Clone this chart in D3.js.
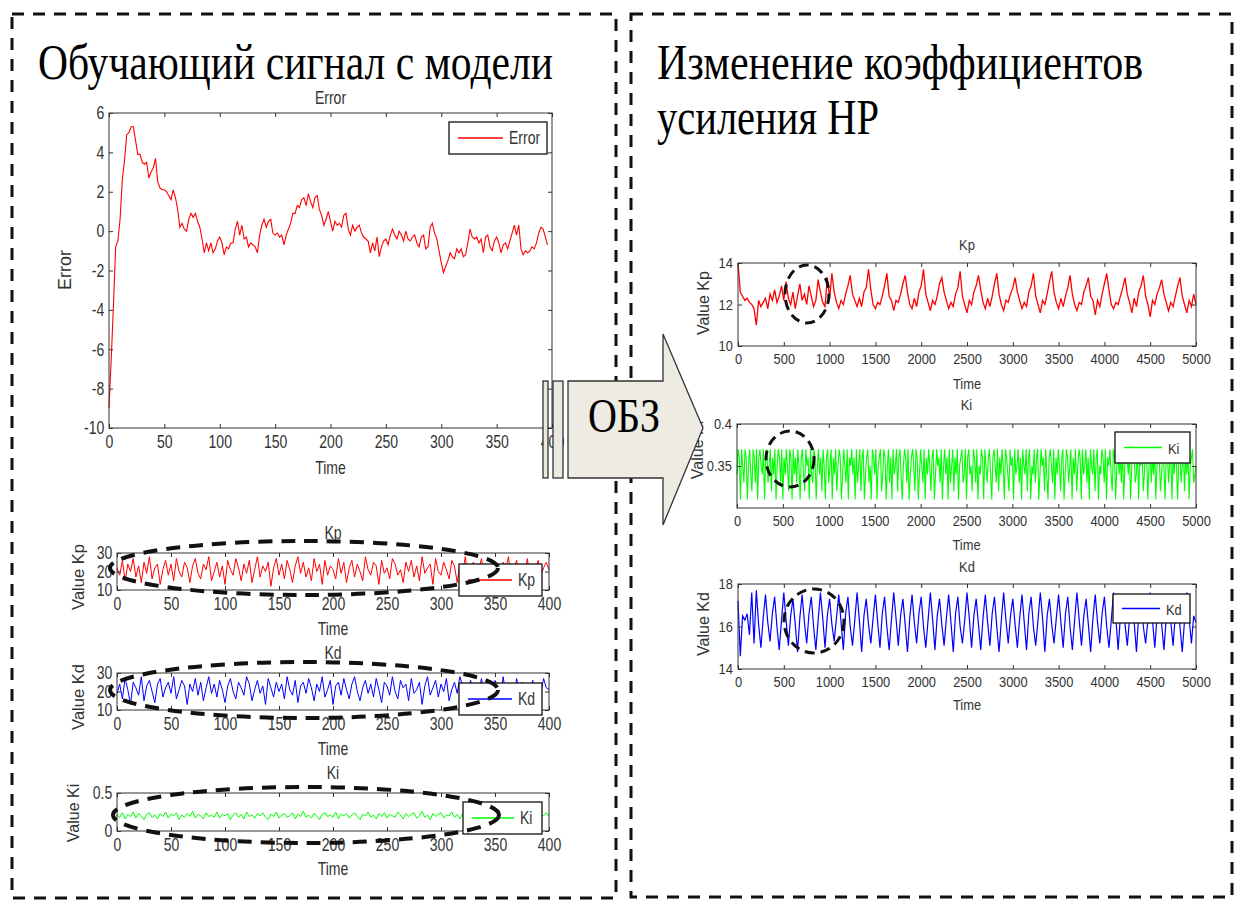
<!DOCTYPE html>
<html>
<head>
<meta charset="utf-8">
<script src="https://cdn.jsdelivr.net/npm/d3@7"></script>
<style>
  body { margin: 0; background: #fff; }
  text { fill: #333; }
</style>
</head>
<body>
<div id="chart"></div>
<script>
// ---- data ----
// error signal, one value every 2 time units (0..396)
const errorValues = [
  -9.0,-6.5,-3.8,-0.8,-0.5,0.6,2.6,3.6,4.9,5.0,5.3,5.3,4.6,3.9,3.9,3.5,3.4,3.5,2.7,3.0,
  3.2,3.7,2.5,2.2,2.1,2.1,2.0,1.8,1.6,2.1,1.7,1.1,0.2,0.4,0.1,0.0,0.6,0.9,0.7,0.9,
  0.5,0.2,-0.4,-1.1,-0.6,-1.0,-0.6,-1.1,-0.9,-0.5,-0.3,-0.6,-1.2,-0.8,-0.9,-0.6,-0.6,0.1,0.5,-0.2,
  0.3,-0.4,-0.3,-0.8,-0.6,-0.7,-0.8,-1.1,-0.2,0.3,0.6,0.2,0.5,0.6,-0.1,-0.2,-0.1,-0.3,-0.2,-0.7,
  -0.2,0.1,0.4,0.9,0.9,1.3,1.2,1.6,1.7,1.3,1.9,1.5,1.2,1.7,1.8,1.1,0.8,0.3,0.6,1.0,
  0.5,0.0,0.5,0.3,0.4,0.2,0.8,0.9,0.1,-0.2,0.3,0.0,0.2,0.3,-0.1,-0.3,-0.4,-0.5,-1.1,-0.6,
  -1.0,-0.3,-1.3,-0.8,-0.5,-0.4,-0.7,-0.2,0.1,-0.2,-0.4,0.0,-0.2,-0.5,0.0,-0.4,-0.5,-0.3,-0.2,-0.6,
  -0.8,-0.3,-0.2,-0.9,-0.8,0.2,0.4,-0.1,-0.4,-1.0,-1.6,-2.1,-1.8,-1.5,-1.1,-1.3,-1.4,-0.9,-1.1,-0.9,
  -1.3,-1.2,-0.6,0.1,-0.3,-0.4,-0.3,-0.6,-0.4,-1.1,-0.3,-0.2,-0.8,-1.0,-0.5,-0.3,-0.6,-1.1,-0.7,-0.6,
  -0.9,-0.5,-0.1,0.3,-0.2,0.3,-0.9,-1.2,-1.0,-1.1,-1.0,-0.8,-0.9,-0.6,-0.1,0.2,0.1,-0.3,-0.7
];

// left small plots, one value every 2.5 time units (0..400)
const kpSmall = [
  22,18,26,15,24,20,27,17,23,14,25,19,28,16,22,24,13,21,26,18,
  24,15,27,20,17,25,22,14,23,27,19,16,24,21,28,15,20,25,17,23,
  13,26,21,18,27,22,15,24,19,26,14,21,28,17,23,20,25,12,22,27,
  18,24,16,26,21,14,23,28,19,25,17,22,15,27,20,24,13,26,18,23,
  21,16,27,19,25,14,22,26,17,24,20,15,28,21,18,25,23,13,26,19,
  22,16,27,24,18,21,14,25,20,26,17,23,15,28,19,22,24,13,27,20,
  18,25,21,16,26,23,14,24,19,28,17,22,25,15,21,27,18,24,13,26,
  20,23,16,25,22,28,14,21,26,17,24,19,27,15,23,20,26,18,22,25,21
];
const kdSmall = [
  19,24,16,27,21,13,25,22,18,28,15,23,26,20,14,24,27,17,22,25,
  19,28,16,21,26,23,13,24,20,27,18,25,15,22,28,19,24,17,26,21,
  14,23,27,20,16,25,22,18,28,24,15,21,26,19,23,13,27,22,17,25,
  20,24,16,28,21,18,26,14,23,25,19,27,22,15,24,20,28,17,21,26,
  13,23,25,18,27,21,16,24,28,20,15,22,26,19,24,17,27,21,14,25,
  23,18,28,20,16,26,22,24,15,27,19,21,25,13,23,28,18,22,26,17,
  24,20,27,15,21,25,19,28,23,16,22,26,14,24,20,27,18,25,21,17,
  26,23,15,28,19,24,22,16,27,20,25,18,23,21,26,14,24,19,27,22,21
];
const kiSmall = [
  .21,.18,.24,.16,.22,.19,.25,.17,.23,.20,.15,.22,.24,.18,.21,.16,.23,.19,.25,.17,
  .22,.20,.24,.15,.21,.18,.23,.19,.26,.17,.22,.20,.16,.24,.19,.21,.18,.25,.17,.22,
  .20,.23,.15,.21,.24,.18,.22,.16,.25,.19,.21,.17,.23,.20,.24,.18,.15,.22,.19,.25,
  .17,.21,.23,.18,.20,.24,.16,.22,.19,.26,.18,.21,.17,.23,.20,.15,.22,.24,.19,.21,
  .18,.25,.16,.22,.20,.23,.17,.21,.24,.19,.15,.22,.20,.25,.18,.21,.16,.23,.19,.24,
  .17,.22,.20,.18,.25,.21,.16,.23,.19,.22,.24,.17,.20,.26,.18,.21,.15,.23,.19,.22,
  .24,.17,.21,.20,.25,.18,.22,.16,.23,.19,.21,.24,.17,.20,.22,.18,.25,.16,.21,.23,
  .19,.22,.17,.24,.20,.18,.23,.21,.15,.22,.19,.24,.20,.17,.23,.21,.18,.22,.20,.24,.19
];

// right plots, one value every 25 time units (0..5000)
const kpRight = [
  14.0,12.6,12.4,12.2,12.3,12.1,12.0,11.8,11.0,12.2,11.9,12.1,12.3,11.8,12.5,12.2,12.7,12.1,12.4,12.9,
  12.2,13.1,12.3,12.0,12.6,11.8,12.4,13.0,12.2,12.5,12.0,12.9,12.4,11.9,12.2,13.2,12.6,12.1,11.9,13.3,
  12.3,13.5,12.6,12.1,11.8,12.2,12.0,12.5,12.9,13.4,12.5,12.2,11.9,12.3,11.9,12.6,12.8,13.7,12.7,12.0,
  11.8,12.1,12.0,12.4,12.9,13.5,12.4,12.2,11.7,12.2,12.1,12.5,13.0,13.4,12.6,12.0,11.8,12.3,11.9,12.6,
  12.9,13.7,12.5,12.1,11.7,12.2,12.0,12.4,13.0,13.3,12.6,12.2,11.8,12.1,11.9,12.5,12.8,13.6,12.4,12.0,
  11.6,12.2,12.0,12.6,12.9,13.4,12.7,12.1,11.8,12.3,11.9,12.4,13.0,13.5,12.5,12.0,11.7,12.2,12.1,12.5,
  12.8,13.3,12.6,12.2,11.8,12.1,11.9,12.6,12.9,13.5,12.4,12.0,11.6,12.2,12.0,12.5,13.1,13.6,12.6,12.1,
  11.8,12.3,11.9,12.4,12.8,13.4,12.5,12.0,11.7,12.1,12.0,12.6,12.9,13.3,12.4,12.2,11.5,12.2,11.9,12.5,
  13.0,13.5,12.7,12.0,11.8,12.1,12.0,12.4,12.8,13.3,12.5,12.1,11.6,12.3,11.9,12.6,12.9,13.4,12.4,12.0,
  11.4,12.2,12.0,12.5,12.8,13.2,12.5,12.1,11.7,12.1,11.9,12.4,12.9,13.3,12.4,12.0,11.6,12.2,11.9,12.5,12.0
];
// one value every 12.5 time units (0..5000)
const kiRight = [
  .34,.37,.36,.31,.37,.35,.33,.37,.36,.31,.35,.37,.34,.32,.37,.36,.33,.37,.31,.36,
  .37,.35,.34,.37,.31,.36,.37,.33,.35,.37,.32,.36,.34,.37,.31,.35,.37,.36,.33,.37,
  .31,.36,.34,.37,.35,.32,.37,.36,.31,.37,.34,.36,.33,.37,.35,.31,.36,.37,.34,.32,
  .37,.35,.36,.31,.37,.34,.33,.37,.36,.31,.35,.37,.34,.36,.32,.37,.35,.31,.36,.37,
  .33,.35,.37,.31,.36,.34,.37,.32,.35,.37,.36,.31,.34,.37,.35,.33,.37,.31,.36,.35,
  .37,.34,.36,.31,.37,.33,.35,.37,.32,.36,.37,.31,.34,.36,.37,.33,.35,.31,.37,.36,
  .34,.37,.31,.35,.36,.37,.32,.34,.37,.36,.31,.35,.37,.33,.36,.31,.37,.34,.35,.37,
  .32,.36,.37,.34,.31,.35,.37,.36,.33,.37,.31,.34,.36,.37,.35,.32,.37,.36,.31,.34,
  .37,.35,.33,.37,.31,.36,.34,.37,.35,.32,.36,.37,.31,.34,.37,.35,.36,.33,.37,.31,
  .35,.37,.34,.36,.31,.37,.33,.35,.37,.32,.36,.34,.37,.31,.35,.36,.37,.33,.34,.37,
  .31,.36,.37,.34,.35,.32,.37,.36,.33,.37,.31,.35,.34,.37,.36,.31,.37,.35,.33,.36,
  .37,.34,.31,.36,.37,.35,.33,.37,.32,.36,.34,.37,.35,.31,.37,.36,.34,.32,.37,.35,
  .36,.31,.37,.34,.35,.37,.33,.36,.31,.37,.35,.34,.37,.32,.36,.37,.31,.35,.34,.37,
  .33,.36,.37,.31,.34,.37,.35,.36,.32,.37,.34,.31,.36,.37,.35,.33,.37,.31,.36,.34,
  .37,.35,.32,.36,.37,.31,.34,.37,.36,.33,.35,.37,.31,.36,.34,.37,.32,.35,.37,.36,
  .31,.37,.34,.35,.37,.33,.36,.31,.37,.35,.34,.37,.32,.36,.37,.31,.35,.34,.37,.36,
  .33,.37,.31,.36,.35,.37,.34,.32,.37,.36,.31,.35,.37,.34,.36,.33,.37,.31,.35,.37,
  .36,.34,.37,.31,.35,.36,.37,.33,.34,.37,.31,.36,.35,.37,.32,.34,.37,.36,.31,.35,
  .37,.33,.36,.34,.37,.31,.35,.37,.36,.32,.34,.37,.35,.31,.36,.37,.33,.35,.37,.31,
  .36,.34,.37,.35,.31,.36,.37,.33,.35,.37,.32,.36,.34,.37,.31,.35,.36,.37,.33,.34,.35
];
// one value every 25 time units (0..5000)
const kdRight = [
  17.2,14.6,16.5,16.3,16.6,15.6,17.6,15.2,17.7,16.1,15.0,16.4,17.5,16.2,15.3,16.6,17.4,16.0,14.9,16.3,
  17.6,16.3,15.1,16.5,17.3,16.1,14.8,16.4,17.5,16.2,15.2,16.6,17.4,16.0,14.9,16.3,17.6,16.4,15.0,16.5,
  17.3,16.1,15.3,16.4,17.5,16.2,14.9,16.6,17.4,16.0,15.1,16.3,17.6,16.3,14.8,16.5,17.3,16.1,15.2,16.4,
  17.5,16.2,15.0,16.6,17.4,16.0,14.9,16.3,17.6,16.4,15.1,16.5,17.3,16.1,14.8,16.4,17.5,16.2,15.2,16.6,
  17.4,16.0,15.0,16.3,17.6,16.3,14.9,16.5,17.3,16.1,15.1,16.4,17.5,16.2,14.8,16.6,17.4,16.0,15.2,16.3,
  17.6,16.4,15.0,16.5,17.3,16.1,14.9,16.4,17.5,16.2,15.1,16.6,17.4,16.0,14.8,16.3,17.6,16.3,15.2,16.5,
  17.3,16.1,15.0,16.4,17.5,16.2,14.9,16.6,17.4,16.0,15.1,16.3,17.6,16.4,14.8,16.5,17.3,16.1,15.2,16.4,
  17.5,16.2,15.0,16.6,17.4,16.0,14.9,16.3,17.6,16.3,15.1,16.5,17.3,16.1,14.8,16.4,17.5,16.2,15.2,16.6,
  17.4,16.0,15.0,16.3,17.6,16.4,14.9,16.5,17.3,16.1,15.1,16.4,17.5,16.2,14.8,16.6,17.4,16.0,15.2,16.3,
  17.6,16.3,15.0,16.5,17.3,16.1,14.9,16.4,17.5,16.2,15.1,16.6,17.4,16.0,14.8,16.3,17.6,16.4,15.2,16.5,16.2
];

// tick labels
const timeTicksLeft = [0, 50, 100, 150, 200, 250, 300, 350, 400];
const timeTicksRight = [0, 500, 1000, 1500, 2000, 2500, 3000, 3500, 4000, 4500, 5000];
const errorTicks = [-10, -8, -6, -4, -2, 0, 2, 4, 6];
const kpSmallTicks = [10, 20, 30];
const kdSmallTicks = [10, 20, 30];
const kiSmallTicks = [0, 0.5];
const kpRightTicks = [10, 12, 14];
const kiRightTicks = [0.35, 0.4];
const kdRightTicks = [14, 16, 18];

// ---- drawing ----
const sans = "Liberation Sans, Arial, sans-serif";
const serif = "Liberation Serif, Times New Roman, serif";

const svg = d3.select("#chart").append("svg")
  .attr("width", 1236).attr("height", 904);

function hText(g, x, y, str, size, sx, anchor) {
  return g.append("text")
    .attr("transform", `translate(${x},${y}) scale(${sx},1)`)
    .attr("text-anchor", anchor || "middle")
    .style("font-family", sans)
    .attr("font-size", size)
    .text(str);
}
function vText(g, x, y, str, size) {
  return g.append("text")
    .attr("transform", `translate(${x},${y}) rotate(-90)`)
    .attr("text-anchor", "middle")
    .attr("dy", "0.35em")
    .style("font-family", sans)
    .attr("font-size", size)
    .text(str);
}

function drawPlot(p) {
  const x = d3.scaleLinear().domain(p.xDomain).range([p.x0, p.x1]);
  const y = d3.scaleLinear().domain(p.yDomain).range([p.y1, p.y0]);
  const g = svg.append("g");
  const plain = d => String(d);

  g.append("rect")
    .attr("x", p.x0).attr("y", p.y0)
    .attr("width", p.x1 - p.x0).attr("height", p.y1 - p.y0)
    .attr("fill", "#fff");

  const line = d3.line()
    .x((d, i) => x(i * p.step))
    .y(d => y(d));
  g.append("path")
    .datum(p.values)
    .attr("d", line)
    .attr("fill", "none")
    .attr("stroke", p.color)
    .attr("stroke-width", p.lw);

  // matlab style axes: ticks pointing inwards on all four sides
  const styleAxis = sel => {
    sel.select(".domain").remove();
    sel.selectAll(".tick line").attr("stroke", "#333");
    sel.selectAll("text").attr("font-size", p.font)
      .style("font-family", sans)
      .attr("fill", "#333")
      .attr("transform", `scale(${p.sx},1)`);
  };
  g.append("g").attr("transform", `translate(0,${p.y1})`)
    .call(d3.axisBottom(x).tickValues(p.xTicks).tickSize(-4).tickPadding(p.pad).tickFormat(plain))
    .call(styleAxis);
  g.append("g").attr("transform", `translate(0,${p.y0})`)
    .call(d3.axisTop(x).tickValues(p.xTicks).tickSize(-4).tickFormat(""))
    .call(styleAxis);
  g.append("g").attr("transform", `translate(${p.x0},0)`)
    .call(d3.axisLeft(y).tickValues(p.yTicks).tickSize(-4).tickPadding(6).tickFormat(plain))
    .call(styleAxis);
  g.append("g").attr("transform", `translate(${p.x1},0)`)
    .call(d3.axisRight(y).tickValues(p.yTicks).tickSize(-4).tickFormat(""))
    .call(styleAxis);

  g.append("rect")
    .attr("x", p.x0).attr("y", p.y0)
    .attr("width", p.x1 - p.x0).attr("height", p.y1 - p.y0)
    .attr("fill", "none").attr("stroke", "#333").attr("stroke-width", 1);

  const cx = (p.x0 + p.x1) / 2;
  hText(g, cx, p.titleY, p.title, p.font, p.sx);
  hText(g, cx, p.timeY, "Time", p.font, p.sx);
  vText(g, p.yLabelX, p.yLabelY, p.yLabel, p.yLabelSize);

  if (p.legend) {
    const L = p.legend;
    g.append("rect")
      .attr("x", L.x0).attr("y", L.y0)
      .attr("width", L.x1 - L.x0).attr("height", L.y1 - L.y0)
      .attr("fill", "#fff").attr("stroke", "#111").attr("stroke-width", 1.3);
    const my = (L.y0 + L.y1) / 2;
    g.append("line")
      .attr("x1", L.x0 + 9).attr("x2", L.x0 + 9 + L.len)
      .attr("y1", my).attr("y2", my)
      .attr("stroke", p.color).attr("stroke-width", 1.3);
    hText(g, L.x0 + 15 + L.len, my + 6, L.name, p.font, p.sx, "start");
  }
}

const plots = [
  { values: errorValues, step: 2, color: "#ff0000", lw: 1.1, title: "Error", yLabel: "Error",
    x0: 109, x1: 552, y0: 113, y1: 428, xDomain: [0, 400], yDomain: [-10, 6],
    xTicks: timeTicksLeft, yTicks: errorTicks, font: 18, sx: 0.78, pad: 7,
    titleY: 104, timeY: 474, yLabelX: 65, yLabelY: 270, yLabelSize: 18,
    legend: { x0: 449, y0: 122, x1: 547, y1: 154, len: 45, name: "Error" } },
  { values: kpSmall, step: 2.5, color: "#ff0000", lw: 1, title: "Kp", yLabel: "Value Kp",
    x0: 117, x1: 549, y0: 553, y1: 590, xDomain: [0, 400], yDomain: [10, 30],
    xTicks: timeTicksLeft, yTicks: kpSmallTicks, font: 18, sx: 0.78, pad: 7,
    titleY: 539, timeY: 635, yLabelX: 78, yLabelY: 577, yLabelSize: 16.5,
    legend: { x0: 459, y0: 564, x1: 542, y1: 596, len: 44, name: "Kp" } },
  { values: kdSmall, step: 2.5, color: "#0000ff", lw: 1, title: "Kd", yLabel: "Value Kd",
    x0: 117, x1: 549, y0: 673, y1: 710, xDomain: [0, 400], yDomain: [10, 30],
    xTicks: timeTicksLeft, yTicks: kdSmallTicks, font: 18, sx: 0.78, pad: 7,
    titleY: 659, timeY: 755, yLabelX: 78, yLabelY: 697, yLabelSize: 16.5,
    legend: { x0: 459, y0: 683, x1: 542, y1: 715, len: 44, name: "Kd" } },
  { values: kiSmall, step: 2.5, color: "#00ff00", lw: 1, title: "Ki", yLabel: "Value Ki",
    x0: 117, x1: 549, y0: 793, y1: 831, xDomain: [0, 400], yDomain: [0, 0.5],
    xTicks: timeTicksLeft, yTicks: kiSmallTicks, font: 18, sx: 0.78, pad: 7,
    titleY: 779, timeY: 875, yLabelX: 73, yLabelY: 813, yLabelSize: 16,
    legend: { x0: 463, y0: 802, x1: 542, y1: 834, len: 42, name: "Ki" } },
  { values: kpRight, step: 25, color: "#ff0000", lw: 1.3, title: "Kp", yLabel: "Value Kp",
    x0: 738, x1: 1196, y0: 263, y1: 346, xDomain: [0, 5000], yDomain: [10, 14],
    xTicks: timeTicksRight, yTicks: kpRightTicks, font: 15, sx: 0.86, pad: 7,
    titleY: 250, timeY: 389, yLabelX: 703, yLabelY: 303, yLabelSize: 16 },
  { values: kiRight, step: 12.5, color: "#00ff00", lw: 1.1, title: "Ki", yLabel: "Value Ki",
    x0: 737, x1: 1196, y0: 424, y1: 508, xDomain: [0, 5000], yDomain: [0.3, 0.4],
    xTicks: timeTicksRight, yTicks: kiRightTicks, font: 15, sx: 0.86, pad: 7,
    titleY: 410, timeY: 550, yLabelX: 697, yLabelY: 450, yLabelSize: 16,
    legend: { x0: 1115, y0: 432, x1: 1190, y1: 463, len: 38, name: "Ki" } },
  { values: kdRight, step: 25, color: "#0000ff", lw: 1.2, title: "Kd", yLabel: "Value Kd",
    x0: 738, x1: 1196, y0: 584, y1: 669, xDomain: [0, 5000], yDomain: [14, 18],
    xTicks: timeTicksRight, yTicks: kdRightTicks, font: 15, sx: 0.86, pad: 7,
    titleY: 572, timeY: 710, yLabelX: 703, yLabelY: 624, yLabelSize: 16,
    legend: { x0: 1113, y0: 594, x1: 1190, y1: 623, len: 38, name: "Kd" } }
];
plots.forEach(drawPlot);

// dashed highlight ellipses
const marks = [
  { cx: 304, cy: 568, rx: 194, ry: 27, w: 4, dash: "14 9" },
  { cx: 304, cy: 690, rx: 194, ry: 28, w: 4, dash: "14 9" },
  { cx: 306, cy: 815, rx: 193, ry: 28, w: 4, dash: "14 9" },
  { cx: 807, cy: 294, rx: 22, ry: 29, w: 3, dash: "10 6" },
  { cx: 790, cy: 459, rx: 24, ry: 28, w: 3, dash: "10 6" },
  { cx: 814, cy: 621, rx: 30, ry: 32, w: 3, dash: "10 6" }
];
svg.append("g").selectAll("ellipse").data(marks).enter().append("ellipse")
  .attr("cx", d => d.cx).attr("cy", d => d.cy)
  .attr("rx", d => d.rx).attr("ry", d => d.ry)
  .attr("fill", "none").attr("stroke", "#111")
  .attr("stroke-width", d => d.w).attr("stroke-dasharray", d => d.dash);

// dashed panel frames
const frames = [
  { x0: 12, y0: 14, x1: 616, y1: 898 },
  { x0: 631, y0: 14, x1: 1232, y1: 897 }
];
svg.append("g").selectAll("rect").data(frames).enter().append("rect")
  .attr("x", d => d.x0).attr("y", d => d.y0)
  .attr("width", d => d.x1 - d.x0).attr("height", d => d.y1 - d.y0)
  .attr("fill", "none").attr("stroke", "#111")
  .attr("stroke-width", 3).attr("stroke-dasharray", "12 9");

// headings
function heading(x, y, str, len) {
  svg.append("text").attr("x", x).attr("y", y)
    .style("font-family", serif).style("font-size", "50px").style("fill", "#000")
    .attr("textLength", len).attr("lengthAdjust", "spacingAndGlyphs")
    .text(str);
}
heading(38, 79, "Обучающий сигнал с модели", 515);
heading(657, 79, "Изменение коэффициентов", 486);
heading(657, 134, "усиления НР", 222);

// arrow "ОБЗ"
const arrow = svg.append("g");
arrow.append("rect").attr("x", 543).attr("y", 381).attr("width", 5).attr("height", 97)
  .attr("fill", "#ebe8de").attr("stroke", "#222").attr("stroke-width", 1.2);
arrow.append("rect").attr("x", 553).attr("y", 381).attr("width", 10).attr("height", 97)
  .attr("fill", "#ebe8de").attr("stroke", "#222").attr("stroke-width", 1.2);
arrow.append("path")
  .attr("d", "M568,381 L663,381 L663,334 L703,428 L663,525 L663,478 L568,478 Z")
  .attr("fill", "#eeebe2").attr("stroke", "#333").attr("stroke-width", 1.3);
arrow.append("text").attr("x", 588).attr("y", 432)
  .style("font-family", serif).style("font-size", "48px").style("fill", "#000")
  .attr("textLength", 72).attr("lengthAdjust", "spacingAndGlyphs")
  .text("ОБЗ");
</script>
</body>
</html>
